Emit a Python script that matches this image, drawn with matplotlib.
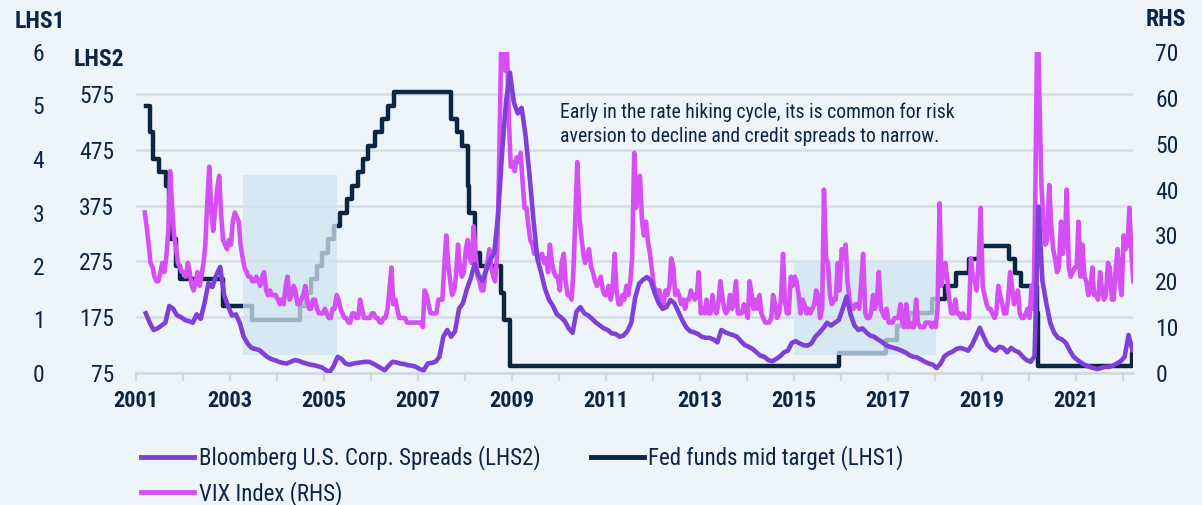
import numpy as np
import pandas as pd
import matplotlib
matplotlib.use("Agg")
import matplotlib.pyplot as plt
from matplotlib.transforms import blended_transform_factory

plt.rcParams['font.family'] = ['Roboto Condensed', 'PT Sans Narrow', 'Liberation Sans', 'DejaVu Sans']

# VIX, two readings per month, Mar 2001 .. Mar 2022
vix = [
    35, 32, 28, 24, 23, 21, 20, 20, 22, 24, 22, 25, 31, 44, 36, 30, 27, 24, 23, 22,          # 2001
    22, 21, 24, 22, 19, 18, 20, 22, 19, 21, 24, 28, 38, 45, 35, 31, 36, 40, 43, 35, 29, 28, 27, 29,  # 2002
    28, 33, 35, 34, 33, 28, 25, 23, 22, 21, 21, 20, 20, 21, 20, 19, 21, 22, 18, 17, 18, 17, 17, 17,  # 2003
    16, 15, 16, 15, 19, 21, 16, 17, 19, 18, 15, 15, 16, 17, 19, 16, 14, 14, 16, 16, 14, 13, 13, 13,  # 2004
    14, 13, 12, 12, 14, 14, 17, 16, 14, 13, 12, 12, 11, 11, 13, 13, 12, 12, 16, 14, 12, 12, 12, 12,  # 2005
    13, 13, 12, 12, 11, 11, 12, 12, 14, 18, 23, 15, 16, 14, 12, 12, 12, 12, 11, 11, 11, 11, 11, 11,  # 2006
    11, 11, 10, 18, 17, 15, 13, 13, 13, 13, 16, 16, 16, 23, 30, 24, 20, 17, 18, 21, 28, 23, 21, 22,  # 2007
    27, 29, 25, 24, 32, 26, 21, 20, 18, 18, 22, 24, 27, 23, 21, 20, 26, 44, 70, 80, 66, 72, 55, 45,  # 2008
    46, 44, 47, 46, 48, 42, 36, 36, 32, 29, 28, 26, 27, 25, 25, 26, 24, 25, 22, 28, 24, 22, 21, 21,  # 2009
    18, 24, 26, 20, 17, 17, 16, 22, 35, 46, 34, 30, 26, 24, 26, 27, 23, 22, 20, 19, 20, 21, 18, 17,  # 2010
    17, 19, 16, 18, 26, 18, 15, 15, 17, 16, 19, 17, 20, 25, 48, 36, 42, 43, 33, 30, 33, 29, 26, 23,  # 2011
    19, 18, 18, 18, 15, 15, 18, 17, 19, 25, 23, 17, 18, 17, 15, 16, 14, 16, 16, 18, 17, 16, 17, 22,  # 2012
    13, 14, 13, 16, 13, 13, 17, 14, 13, 15, 20, 17, 14, 13, 14, 17, 14, 16, 20, 13, 13, 13, 15, 14,  # 2013
    12, 20, 17, 14, 16, 14, 17, 13, 12, 11, 11, 11, 12, 17, 15, 12, 13, 16, 26, 16, 13, 13, 21, 19,  # 2014
    21, 20, 17, 13, 16, 15, 13, 14, 13, 14, 15, 18, 17, 12, 14, 40, 25, 24, 17, 15, 16, 16, 24, 18,  # 2015
    27, 25, 28, 20, 16, 14, 14, 15, 15, 14, 20, 26, 13, 12, 12, 13, 17, 14, 16, 22, 14, 13, 12, 14,  # 2016
    11, 11, 11, 12, 12, 12, 15, 11, 10, 15, 10, 11, 10, 10, 16, 11, 10, 10, 10, 11, 11, 11, 10, 11,  # 2017
    10, 14, 37, 19, 22, 24, 20, 16, 13, 13, 16, 13, 13, 12, 13, 12, 12, 12, 25, 21, 20, 18, 25, 36,  # 2018
    19, 17, 15, 14, 14, 13, 12, 13, 19, 17, 15, 13, 13, 16, 22, 19, 15, 16, 18, 13, 12, 12, 13, 14,  # 2019
    12, 19, 14, 40, 82, 61, 41, 34, 28, 29, 41, 33, 27, 25, 22, 23, 33, 26, 29, 40, 23, 21, 22, 23,  # 2020
    23, 33, 21, 28, 21, 20, 17, 18, 23, 17, 17, 16, 22, 18, 16, 17, 24, 23, 16, 16, 23, 27, 20, 17,  # 2021
    30, 27, 28, 36, 26, 20,                                                                  # 2022
]

# Bloomberg U.S. Corp. OAS (bp), monthly, Mar 2001 .. Mar 2022
corp_spread = [
    182, 165, 152, 155, 160, 165, 195, 190, 178, 175,             # 2001
    170, 168, 165, 180, 172, 200, 236, 229, 250, 265, 215, 195,   # 2002
    178, 180, 165, 140, 128, 120, 118, 116, 110, 104, 100, 98,    # 2003
    95, 93, 92, 95, 98, 97, 94, 92, 90, 89, 87, 85,               # 2004
    80, 77, 88, 104, 100, 92, 90, 92, 93, 94, 95, 95,             # 2005
    92, 88, 84, 80, 88, 95, 94, 92, 91, 89, 88, 86,               # 2006
    82, 80, 92, 93, 95, 104, 140, 152, 140, 150, 190, 200,        # 2007
    225, 245, 270, 250, 240, 260, 278, 290, 360, 470, 560, 613,   # 2008
    560, 540, 550, 500, 430, 350, 280, 254, 225, 206, 195, 180,   # 2009
    175, 168, 155, 147, 185, 193, 182, 178, 172, 165, 160, 155,   # 2010
    152, 146, 145, 140, 142, 150, 165, 210, 235, 242, 247, 240,   # 2011
    218, 200, 190, 193, 206, 200, 185, 170, 157, 150, 148, 145,   # 2012
    140, 138, 138, 135, 130, 152, 148, 145, 143, 140, 132, 125,   # 2013
    122, 118, 112, 106, 104, 98, 96, 100, 105, 112, 115, 129,     # 2014
    132, 128, 125, 124, 128, 140, 147, 155, 165, 160, 165, 170,   # 2015
    190, 212, 180, 160, 152, 155, 148, 142, 140, 135, 131, 125,   # 2016
    122, 120, 118, 115, 112, 107, 104, 103, 99, 95, 92, 90,       # 2017
    84, 92, 105, 110, 113, 118, 120, 118, 115, 125, 140, 156,     # 2018
    140, 125, 118, 115, 122, 120, 112, 120, 115, 112, 104, 98,    # 2019
    95, 105, 373, 240, 200, 165, 147, 138, 135, 129, 115, 104,    # 2020
    98, 93, 89, 86, 84, 82, 84, 86, 86, 88, 92, 96,               # 2021
    104, 143, 116,                                                # 2022
]

# Fed funds target, mid point, at each change
ff_dates = ['2001-03-20', '2001-04-18', '2001-05-15', '2001-06-27', '2001-08-21',
            '2001-09-17', '2001-10-02', '2001-11-06', '2001-12-11', '2002-11-06',
            '2003-06-25', '2004-06-30', '2004-08-10', '2004-09-21', '2004-11-10',
            '2004-12-14', '2005-02-02', '2005-03-22', '2005-05-03', '2005-06-30',
            '2005-08-09', '2005-09-20', '2005-11-01', '2005-12-13', '2006-01-31',
            '2006-03-28', '2006-05-10', '2006-06-29', '2007-09-18', '2007-10-31',
            '2007-12-11', '2008-01-22', '2008-01-30', '2008-03-18', '2008-04-30',
            '2008-10-08', '2008-10-29', '2008-12-16', '2015-12-16', '2016-12-14',
            '2017-03-15', '2017-06-14', '2017-12-13', '2018-03-21', '2018-06-13',
            '2018-09-26', '2018-12-19', '2019-07-31', '2019-09-18', '2019-10-30',
            '2020-03-03', '2020-03-15', '2022-03-16', '2022-03-20']
ff_rate = [5.0, 4.5, 4.0, 3.75, 3.5, 3.0, 2.5, 2.0, 1.75, 1.25,
           1.0, 1.25, 1.5, 1.75, 2.0, 2.25, 2.5, 2.75, 3.0, 3.25,
           3.5, 3.75, 4.0, 4.25, 4.5, 4.75, 5.0, 5.25, 4.75, 4.5,
           4.25, 3.5, 3.0, 2.25, 2.0, 1.5, 1.0, 0.125, 0.375, 0.625,
           0.875, 1.125, 1.375, 1.625, 1.875, 2.125, 2.375, 2.125, 1.875, 1.625,
           1.125, 0.125, 0.375, 0.375]

months = pd.date_range('2001-03-01', '2022-03-01', freq='MS')
t = months.year + (months.month - 0.5) / 12
t_vix = np.ravel(np.column_stack([t - 0.25/12, t + 0.21/12]))
ffd = pd.to_datetime(ff_dates)
t_ff = ffd.year + (ffd.dayofyear - 1) / 365.25

navy = '#0b2545'
bg = '#eef5fa'
c_vix = '#d64ff5'
c_spr = '#8040d8'
c_grid = '#d6dde3'

fig = plt.figure(figsize=(12.02, 5.05), dpi=100, facecolor=bg)
ax_ff = fig.add_axes([136/1202, 1-373/505, (1133-136)/1202, 321/505])
ax_ff.set_facecolor(bg)
ax_vix = ax_ff.twinx()
ax_sp = ax_ff.twinx()
ax_ff.set_zorder(1)
ax_vix.set_zorder(2)
ax_sp.set_zorder(3)

ax_ff.set_xlim(2001, 2022.22)
ax_ff.set_ylim(0, 6)
ax_sp.set_ylim(75, 650)
ax_vix.set_ylim(0, 70)

# grid lines follow LHS2 ticks
gtr = blended_transform_factory(ax_ff.transAxes, ax_sp.transData)
for v in range(175, 576, 100):
    ax_ff.plot([0, 1], [v, v], transform=gtr, color=c_grid, lw=1.8, zorder=0)

ax_ff.step(t_ff, ff_rate, where='post', color=navy, lw=3.2, zorder=2)
ax_vix.axvspan(2003.28, 2005.28, ymin=0.056, ymax=0.617, color='#cfe4ef', alpha=0.75, lw=0, zorder=1)
ax_vix.axvspan(2015.0, 2018.02, ymin=0.056, ymax=0.349, color='#cfe4ef', alpha=0.75, lw=0, zorder=1)
ax_vix.plot(t_vix, vix, color=c_vix, lw=3.3, zorder=2)
ax_sp.plot(t, corp_spread, color=c_spr, lw=3.3, zorder=2)

for a in (ax_ff, ax_sp, ax_vix):
    for s in a.spines.values():
        s.set_visible(False)
ax_ff.spines['bottom'].set_visible(True)
ax_ff.spines['bottom'].set_color('#d3d8dd')
ax_ff.spines['bottom'].set_linewidth(2)

years = np.arange(2001, 2023)
ax_ff.set_xticks(years)
ax_ff.set_xticklabels([str(y) if y % 2 == 1 else '' for y in years],
                      fontsize=16, fontweight='bold', color=navy)
ax_ff.tick_params(axis='x', length=6, width=1.5, color='#d3d8dd', pad=6)

ax_ff.set_yticks(range(0, 7))
ax_ff.tick_params(axis='y', length=0, pad=66, labelsize=17, labelcolor=navy)
ax_sp.yaxis.tick_left()
ax_sp.set_yticks(range(75, 576, 100))
ax_sp.tick_params(axis='y', length=0, pad=16, labelsize=17, labelcolor=navy)
ax_vix.set_yticks(range(0, 71, 10))
ax_vix.tick_params(axis='y', length=0, pad=16, labelsize=17, labelcolor=navy)

fig.text(40/1202, 1-22/505, 'LHS1', ha='center', va='center', fontsize=17, fontweight='bold', color=navy)
fig.text(99/1202, 1-60/505, 'LHS2', ha='center', va='center', fontsize=17, fontweight='bold', color=navy)
fig.text(1166/1202, 1-20/505, 'RHS', ha='center', va='center', fontsize=17, fontweight='bold', color=navy)

fig.text(560/1202, 1-124/505, 'Early in the rate hiking cycle, its is common for risk\n'
         'aversion to decline and credit spreads to narrow.',
         ha='left', va='center', fontsize=14.2, color=navy, linespacing=1.3)

h_sp, = ax_sp.plot([], [], color=c_spr, lw=3.5)
h_vix, = ax_sp.plot([], [], color=c_vix, lw=3.5)
h_ff, = ax_sp.plot([], [], color=navy, lw=3.5)
fig.legend([h_sp, h_vix, h_ff],
           ['Bloomberg U.S. Corp. Spreads (LHS2)', 'VIX Index (RHS)', 'Fed funds mid target (LHS1)'],
           ncol=2, loc='upper left', bbox_to_anchor=(130/1202, 1-434/505), frameon=False,
           fontsize=16.5, labelcolor=navy, handlelength=2.3, handletextpad=0.2,
           columnspacing=2.2, labelspacing=0.45, borderpad=0)

fig.savefig('out.png', dpi=100, facecolor=bg)
